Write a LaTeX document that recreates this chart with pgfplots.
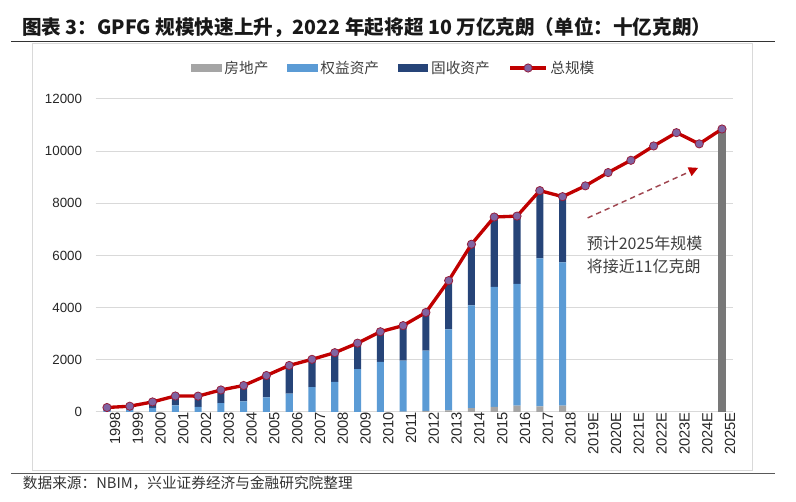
\documentclass[border=0pt]{standalone}
\usepackage{pgfplots}
\pgfplotsset{compat=1.18}
\usepackage{pgfplotstable}
\usetikzlibrary{arrows.meta}
\usepackage{fontspec}
\setmainfont{Liberation Sans}
\newfontfamily\cjk{Noto Sans CJK SC}
\definecolor{re}{RGB}{165,165,165}
\definecolor{eq}{RGB}{91,155,213}
\definecolor{fi}{RGB}{38,68,120}
\definecolor{fc}{RGB}{120,120,120}
\definecolor{tot}{RGB}{192,0,0}
\definecolor{mk}{RGB}{128,100,162}
\definecolor{mkd}{RGB}{150,30,60}
\definecolor{gridc}{RGB}{217,217,217}
\definecolor{txt}{RGB}{64,64,64}
\definecolor{arr}{RGB}{160,70,80}
\pgfplotsset{
  barleg/.style={legend image code/.code={\fill[##1] (0pt,-3pt) rectangle (23pt,3pt);}},
  lineleg/.style={legend image code/.code={%
    \draw[tot, line width=2.4pt] (0pt,0pt) -- (27pt,0pt);
    \fill[mk, draw=mkd, line width=0.6pt] (13.5pt,0pt) circle (3.1pt);}},
}
\pgfplotstableread{
x RE EQ FI FC TOT
0 0 70 102 0 172
1 0 110 112 0 222
2 0 155 231 0 386
3 0 250 364 0 614
4 0 195 414 0 609
5 0 340 505 0 845
6 0 410 606 0 1016
7 0 560 839 0 1399
8 0 700 1084 0 1784
9 0 950 1069 0 2019
10 0 1150 1125 0 2275
11 0 1640 1000 0 2640
12 0 1920 1157 0 3077
13 15 1955 1342 0 3312
14 40 2310 1466 0 3816
15 60 3110 1868 0 5038
16 150 3940 2341 0 6431
17 200 4600 2675 0 7475
18 240 4670 2600 0 7510
19 220 5670 2598 0 8488
20 240 5500 2516 0 8256
21 0 0 0 0 8670
22 0 0 0 0 9180
23 0 0 0 0 9650
24 0 0 0 0 10200
25 0 0 0 0 10710
26 0 0 0 0 10280
27 0 0 0 10850 10850
}\data
\begin{document}
\begin{tikzpicture}[x=1pt,y=1pt]
\useasboundingbox (0,0) rectangle (597,376.5);
\node[anchor=west, inner sep=0pt, font=\cjk\bfseries\fontsize{14.7}{18}\selectfont, text=black!90] at (16.5,356) {图表 3：GPFG 规模快速上升，2022 年起将超 10 万亿克朗（单位：十亿克朗）};
\draw[line width=1pt, black!80] (8.25,345.5) -- (581,345.5);
\draw[gridc, line width=0.6pt] (24,24) rectangle (564,344);
\draw[line width=1.2pt, black!65] (8.25,21.5) -- (581,21.5);
\node[anchor=west, inner sep=0pt, font=\cjk\fontsize{11}{13}\selectfont, text=black!80] at (17,14.25) {数据来源：NBIM，兴业证券经济与金融研究院整理};
\begin{axis}[
  at={(71.7pt,67.5pt)}, anchor=south west,
  scale only axis, width=478.35pt, height=234.75pt,
  xmin=-0.5, xmax=27.5, ymin=0, ymax=12000,
  ybar stacked, bar width=5.3pt,
  xtick={0,...,27},
  xticklabels={1998,1999,2000,2001,2002,2003,2004,2005,2006,2007,2008,2009,2010,2011,2012,2013,2014,2015,2016,2017,2018,2019E,2020E,2021E,2022E,2023E,2024E,2025E},
  ytick={0,2000,...,12000},
  scaled y ticks=false,
  /pgf/number format/assume math mode=true,
  /pgf/number format/1000 sep={},
  major tick length=0pt,
  ymajorgrids, grid style={gridc, line width=0.75pt},
  axis x line*=bottom, axis y line*=left,
  y axis line style={draw=none},
  x axis line style={gridc, line width=0.75pt},
  tick label style={font=\fontsize{10}{12}\selectfont, text=black!85},
  yticklabel style={inner sep=0pt, xshift=-10pt},
  xticklabel style={rotate=90, anchor=east, inner sep=0pt, yshift=-6pt, font=\fontsize{11}{12}\selectfont},
  legend style={at={(0.468,1.099)}, anchor=center, draw=none, fill=none,
    font=\cjk\fontsize{11}{13}\selectfont, text=txt,
    /tikz/every even column/.append style={column sep=12pt}},
  legend columns=4,
]
\addplot[fill=re, draw=none, barleg] table[x=x,y=RE]{\data};
\addlegendentry{房地产}
\addplot[fill=eq, draw=none, barleg] table[x=x,y=EQ]{\data};
\addlegendentry{权益资产}
\addplot[fill=fi, draw=none, barleg] table[x=x,y=FI]{\data};
\addlegendentry{固收资产}
\addplot[fill=fc, draw=none, forget plot] table[x=x,y=FC]{\data};
\addlegendimage{lineleg}
\addlegendentry{总规模}
\end{axis}
\begin{axis}[
  at={(71.7pt,67.5pt)}, anchor=south west,
  scale only axis, width=478.35pt, height=234.75pt,
  xmin=-0.5, xmax=27.5, ymin=0, ymax=12000,
  hide axis, clip=false,
]
\addplot[tot, line width=2.5pt, mark=*, mark size=3.1pt, mark options={fill=mk, draw=mkd, line width=0.6pt}] table[x=x,y=TOT]{\data};
\draw[arr, line width=1.1pt, dash pattern=on 4pt off 3pt, -{Triangle[length=7pt,width=7pt,fill=tot,color=tot]}] (axis cs:21.1,7440) -- (axis cs:25.95,9360);
\node[anchor=west, inner sep=0pt, align=left, font=\cjk\fontsize{12}{17.25}\selectfont, text=txt] at (axis cs:21.05,6040) {预计2025年规模\\将接近11亿克朗};
\end{axis}
\end{tikzpicture}
\end{document}
